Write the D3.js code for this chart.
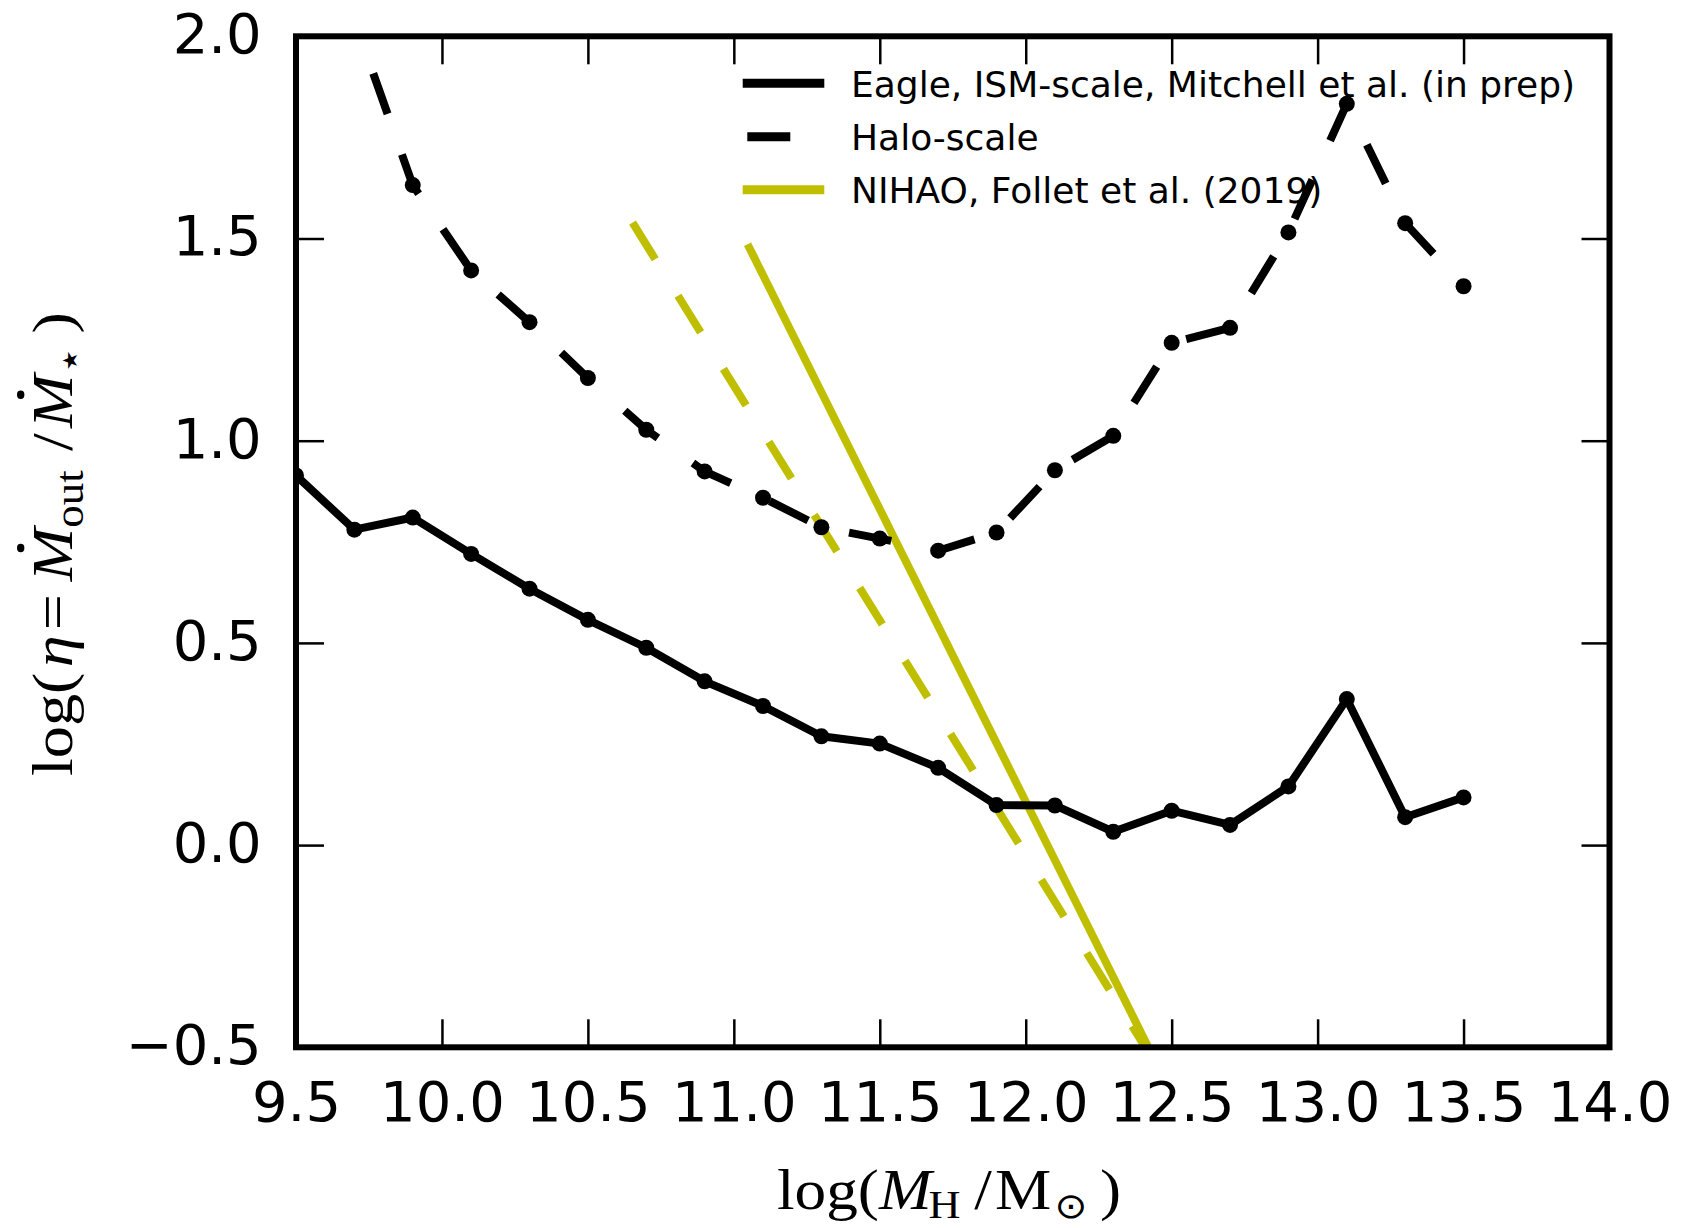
<!DOCTYPE html>
<html>
<head>
<meta charset="utf-8">
<script src="https://cdn.jsdelivr.net/npm/d3@7"></script>
<style>
  body { margin: 0; background: #fff; }
  svg { display: block; }
</style>
</head>
<body>
<svg id="chart"></svg>
<script>
// log(M_H / Msun) bins and mass loading values
var ismMass = [9.5, 9.7, 9.9, 10.1, 10.3, 10.5, 10.7, 10.9, 11.1, 11.3, 11.5,
               11.7, 11.9, 12.1, 12.3, 12.5, 12.7, 12.9, 13.1, 13.3, 13.5];
var ismEta = [0.914, 0.78, 0.81, 0.72, 0.634, 0.557, 0.488, 0.405, 0.344, 0.269, 0.251,
              0.191, 0.099, 0.098, 0.033, 0.085, 0.05, 0.145, 0.361, 0.069, 0.118];

var haloMass = [9.7, 9.9, 10.1, 10.3, 10.5, 10.7, 10.9, 11.1, 11.3, 11.5,
                11.7, 11.9, 12.1, 12.3, 12.5, 12.7, 12.9, 13.1, 13.3, 13.5];
var haloEta = [2.04, 1.632, 1.421, 1.293, 1.155, 1.027, 0.924, 0.859, 0.786, 0.758,
               0.728, 0.773, 0.927, 1.012, 1.242, 1.279, 1.515, 1.833, 1.538, 1.382];

// NIHAO fits (solid = ISM, dashed = halo)
var nihaoMass = [11.047, 12.42];
var nihaoEta = [1.486, -0.5];
var nihaoHaloMass = [10.653, 12.41];
var nihaoHaloEta = [1.539, -0.5];

var xTicks = [9.5, 10.0, 10.5, 11.0, 11.5, 12.0, 12.5, 13.0, 13.5, 14.0];
var yTicks = [-0.5, 0.0, 0.5, 1.0, 1.5, 2.0];
var legendLabels = ["Eagle, ISM-scale, Mitchell et al. (in prep)", "Halo-scale", "NIHAO, Follet et al. (2019)"];

var width = 1686;
var height = 1228;
var margin = { top: 36.3, right: 76.5, bottom: 180.7, left: 296 };
var yellow = "#bfbf00";

var svg = d3.select("#chart").attr("width", width).attr("height", height);

var xScale = d3.scaleLinear().domain([9.5, 14.0]).range([margin.left, width - margin.right]);
var yScale = d3.scaleLinear().domain([-0.5, 2.0]).range([height - margin.bottom, margin.top]);

svg.append("defs").append("clipPath").attr("id", "plotclip")
  .append("rect")
  .attr("x", margin.left).attr("y", margin.top)
  .attr("width", xScale.range()[1] - margin.left)
  .attr("height", yScale.range()[0] - margin.top);

var plot = svg.append("g").attr("clip-path", "url(#plotclip)");

function pts(xs, ys) {
  return xs.map(function (d, i) { return [d, ys[i]]; });
}
var line = d3.line()
  .x(function (d) { return xScale(d[0]); })
  .y(function (d) { return yScale(d[1]); });

// yellow NIHAO lines
plot.append("path").datum(pts(nihaoHaloMass, nihaoHaloEta))
  .attr("d", line).attr("fill", "none").attr("stroke", yellow)
  .attr("stroke-width", 8).attr("stroke-dasharray", "43,43");
plot.append("path").datum(pts(nihaoMass, nihaoEta))
  .attr("d", line).attr("fill", "none").attr("stroke", yellow)
  .attr("stroke-width", 8);

// Eagle ISM-scale
plot.append("path").datum(pts(ismMass, ismEta))
  .attr("d", line).attr("fill", "none").attr("stroke", "black")
  .attr("stroke-width", 8).attr("stroke-linejoin", "round");
plot.selectAll("circle.ism").data(pts(ismMass, ismEta)).enter().append("circle")
  .attr("class", "ism")
  .attr("cx", function (d) { return xScale(d[0]); })
  .attr("cy", function (d) { return yScale(d[1]); })
  .attr("r", 8).attr("fill", "black");

// Eagle halo-scale
plot.append("path").datum(pts(haloMass, haloEta))
  .attr("d", line).attr("fill", "none").attr("stroke", "black")
  .attr("stroke-width", 8).attr("stroke-linejoin", "round")
  .attr("stroke-dasharray", "43,43").attr("stroke-dashoffset", 29.5);
plot.selectAll("circle.halo").data(pts(haloMass, haloEta)).enter().append("circle")
  .attr("class", "halo")
  .attr("cx", function (d) { return xScale(d[0]); })
  .attr("cy", function (d) { return yScale(d[1]); })
  .attr("r", 8).attr("fill", "black");

// axes, ticks inward on all four sides
var fmt = d3.format(".1f");
var x0 = margin.left, x1 = xScale.range()[1];
var y0 = yScale.range()[0], y1 = margin.top;

var bottomAxis = svg.append("g").attr("transform", "translate(0," + y0 + ")")
  .call(d3.axisBottom(xScale).tickValues(xTicks).tickFormat(fmt).tickSizeInner(-28).tickSizeOuter(0));
bottomAxis.selectAll("text").attr("y", 73.4).attr("dy", null);

var leftAxis = svg.append("g").attr("transform", "translate(" + x0 + ",0)")
  .call(d3.axisLeft(yScale).tickValues(yTicks).tickFormat(fmt).tickSizeInner(-28).tickSizeOuter(0));
leftAxis.selectAll("text").attr("x", -34.3).attr("dy", null).attr("y", 16.4);

var topAxis = svg.append("g").attr("transform", "translate(0," + y1 + ")")
  .call(d3.axisTop(xScale).tickValues(xTicks).tickFormat("").tickSizeInner(-28).tickSizeOuter(0));
var rightAxis = svg.append("g").attr("transform", "translate(" + x1 + ",0)")
  .call(d3.axisRight(yScale).tickValues(yTicks).tickFormat("").tickSizeInner(-28).tickSizeOuter(0));

[bottomAxis, leftAxis, topAxis, rightAxis].forEach(function (a) {
  a.select(".domain").remove();
  a.attr("font-family", "DejaVu Sans").attr("font-size", 56);
  a.selectAll(".tick line").attr("stroke-width", 2.5);
});

// frame
svg.append("rect")
  .attr("x", x0).attr("y", y1).attr("width", x1 - x0).attr("height", y0 - y1)
  .attr("fill", "none").attr("stroke", "black").attr("stroke-width", 6);

// legend
var legend = svg.append("g").attr("font-family", "DejaVu Sans").attr("font-size", 36);
var legendY = [83.3, 136.7, 189.7];
var legendStyle = [
  { color: "black", dash: null, off: 0 },
  { color: "black", dash: "43,43", off: 81.4 },
  { color: yellow, dash: null, off: 0 }
];
legendLabels.forEach(function (lab, i) {
  legend.append("line")
    .attr("x1", 742.7).attr("x2", 824.3)
    .attr("y1", legendY[i]).attr("y2", legendY[i])
    .attr("stroke", legendStyle[i].color).attr("stroke-width", 9)
    .attr("stroke-dasharray", legendStyle[i].dash)
    .attr("stroke-dashoffset", legendStyle[i].off);
  legend.append("text").attr("x", 851).attr("y", legendY[i] + 13.2).text(lab);
});

// math-like axis labels built from pieces
function mathLabel(parent, pieces, size) {
  var g = parent.append("g");
  var cursor = 0;
  pieces.forEach(function (p) {
    cursor += (p.gap || 0) * size;
    var t = g.append("text")
      .attr("x", cursor)
      .attr("y", (p.shift || 0) * size)
      .attr("font-family", p.family || "Liberation Serif")
      .attr("font-style", p.italic ? "italic" : "normal")
      .attr("font-size", size * (p.scale || 1))
      .text(p.t);
    var w = t.node().getComputedTextLength();
    if (p.dot) {
      g.append("circle").attr("cx", cursor + w * 0.62).attr("cy", -size * 0.9)
        .attr("r", size * 0.065).attr("fill", "black");
    }
    cursor += w;
  });
  return { g: g, width: cursor };
}

var xl = mathLabel(svg, [
  { t: "log" }, { t: "(" }, { t: "M", italic: true },
  { t: "H", scale: 0.7, shift: 0.15, gap: -0.05 },
  { t: "/", gap: 0.22 }, { t: "M", gap: 0.05 },
  { t: "\u2299", scale: 0.62, shift: 0.15, family: "DejaVu Sans", gap: 0.05 },
  { t: ")", gap: 0.2 }
], 57);
var xsx = 344 / xl.width;
xl.g.attr("transform", "translate(777,1209) scale(" + xsx + ",1)");

var yl = mathLabel(svg, [
  { t: "log" }, { t: "(" }, { t: "\u03b7", italic: true, gap: 0.08 },
  { t: "=", gap: 0.08 }, { t: "M", italic: true, dot: true, gap: 0.2 },
  { t: "out", scale: 0.7, shift: 0.2 },
  { t: "/", gap: 0.3 }, { t: "M", italic: true, dot: true, gap: 0.08 },
  { t: "\u22c6", scale: 0.7, shift: 0.2, family: "DejaVu Sans" },
  { t: ")", gap: 0.2 }
], 57);
var ysx = 464 / yl.width;
yl.g.attr("transform", "translate(72,776) rotate(-90) scale(" + ysx + ",1)");
</script>
</body>
</html>
